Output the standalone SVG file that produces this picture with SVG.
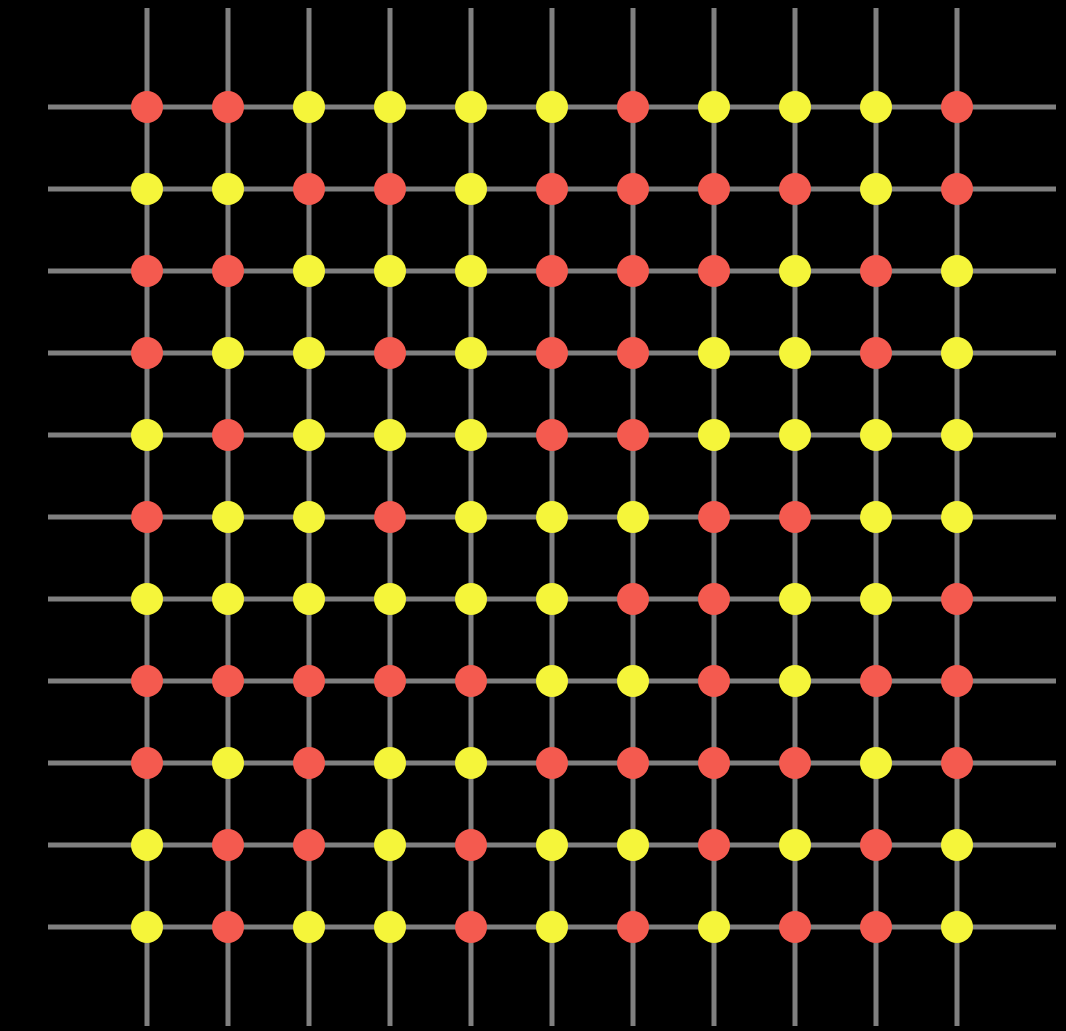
<svg xmlns="http://www.w3.org/2000/svg" width="1066" height="1031" viewBox="0 0 1066 1031">
<style>
.g{stroke:#808080;stroke-width:5;fill:none}
.r{fill:#F45A4F}
.y{fill:#F5F53A}
</style>
<rect width="1066" height="1031" fill="#000"/>
<g id="connectors" class="g">
<path d="M48 107H1056M48 189H1056M48 271H1056M48 353H1056M48 435H1056M48 517H1056M48 599H1056M48 681H1056M48 763H1056M48 845H1056M48 927H1056"/>
<path d="M147 8V1026M228 8V1026M309 8V1026M390 8V1026M471 8V1026M552 8V1026M633 8V1026M714 8V1026M795 8V1026M876 8V1026M957 8V1026"/>
</g>
<g id="nodes">
<g id="row1"><circle class="r" cx="147" cy="107" r="16"/><circle class="r" cx="228" cy="107" r="16"/><circle class="y" cx="309" cy="107" r="16"/><circle class="y" cx="390" cy="107" r="16"/><circle class="y" cx="471" cy="107" r="16"/><circle class="y" cx="552" cy="107" r="16"/><circle class="r" cx="633" cy="107" r="16"/><circle class="y" cx="714" cy="107" r="16"/><circle class="y" cx="795" cy="107" r="16"/><circle class="y" cx="876" cy="107" r="16"/><circle class="r" cx="957" cy="107" r="16"/></g>
<g id="row2"><circle class="y" cx="147" cy="189" r="16"/><circle class="y" cx="228" cy="189" r="16"/><circle class="r" cx="309" cy="189" r="16"/><circle class="r" cx="390" cy="189" r="16"/><circle class="y" cx="471" cy="189" r="16"/><circle class="r" cx="552" cy="189" r="16"/><circle class="r" cx="633" cy="189" r="16"/><circle class="r" cx="714" cy="189" r="16"/><circle class="r" cx="795" cy="189" r="16"/><circle class="y" cx="876" cy="189" r="16"/><circle class="r" cx="957" cy="189" r="16"/></g>
<g id="row3"><circle class="r" cx="147" cy="271" r="16"/><circle class="r" cx="228" cy="271" r="16"/><circle class="y" cx="309" cy="271" r="16"/><circle class="y" cx="390" cy="271" r="16"/><circle class="y" cx="471" cy="271" r="16"/><circle class="r" cx="552" cy="271" r="16"/><circle class="r" cx="633" cy="271" r="16"/><circle class="r" cx="714" cy="271" r="16"/><circle class="y" cx="795" cy="271" r="16"/><circle class="r" cx="876" cy="271" r="16"/><circle class="y" cx="957" cy="271" r="16"/></g>
<g id="row4"><circle class="r" cx="147" cy="353" r="16"/><circle class="y" cx="228" cy="353" r="16"/><circle class="y" cx="309" cy="353" r="16"/><circle class="r" cx="390" cy="353" r="16"/><circle class="y" cx="471" cy="353" r="16"/><circle class="r" cx="552" cy="353" r="16"/><circle class="r" cx="633" cy="353" r="16"/><circle class="y" cx="714" cy="353" r="16"/><circle class="y" cx="795" cy="353" r="16"/><circle class="r" cx="876" cy="353" r="16"/><circle class="y" cx="957" cy="353" r="16"/></g>
<g id="row5"><circle class="y" cx="147" cy="435" r="16"/><circle class="r" cx="228" cy="435" r="16"/><circle class="y" cx="309" cy="435" r="16"/><circle class="y" cx="390" cy="435" r="16"/><circle class="y" cx="471" cy="435" r="16"/><circle class="r" cx="552" cy="435" r="16"/><circle class="r" cx="633" cy="435" r="16"/><circle class="y" cx="714" cy="435" r="16"/><circle class="y" cx="795" cy="435" r="16"/><circle class="y" cx="876" cy="435" r="16"/><circle class="y" cx="957" cy="435" r="16"/></g>
<g id="row6"><circle class="r" cx="147" cy="517" r="16"/><circle class="y" cx="228" cy="517" r="16"/><circle class="y" cx="309" cy="517" r="16"/><circle class="r" cx="390" cy="517" r="16"/><circle class="y" cx="471" cy="517" r="16"/><circle class="y" cx="552" cy="517" r="16"/><circle class="y" cx="633" cy="517" r="16"/><circle class="r" cx="714" cy="517" r="16"/><circle class="r" cx="795" cy="517" r="16"/><circle class="y" cx="876" cy="517" r="16"/><circle class="y" cx="957" cy="517" r="16"/></g>
<g id="row7"><circle class="y" cx="147" cy="599" r="16"/><circle class="y" cx="228" cy="599" r="16"/><circle class="y" cx="309" cy="599" r="16"/><circle class="y" cx="390" cy="599" r="16"/><circle class="y" cx="471" cy="599" r="16"/><circle class="y" cx="552" cy="599" r="16"/><circle class="r" cx="633" cy="599" r="16"/><circle class="r" cx="714" cy="599" r="16"/><circle class="y" cx="795" cy="599" r="16"/><circle class="y" cx="876" cy="599" r="16"/><circle class="r" cx="957" cy="599" r="16"/></g>
<g id="row8"><circle class="r" cx="147" cy="681" r="16"/><circle class="r" cx="228" cy="681" r="16"/><circle class="r" cx="309" cy="681" r="16"/><circle class="r" cx="390" cy="681" r="16"/><circle class="r" cx="471" cy="681" r="16"/><circle class="y" cx="552" cy="681" r="16"/><circle class="y" cx="633" cy="681" r="16"/><circle class="r" cx="714" cy="681" r="16"/><circle class="y" cx="795" cy="681" r="16"/><circle class="r" cx="876" cy="681" r="16"/><circle class="r" cx="957" cy="681" r="16"/></g>
<g id="row9"><circle class="r" cx="147" cy="763" r="16"/><circle class="y" cx="228" cy="763" r="16"/><circle class="r" cx="309" cy="763" r="16"/><circle class="y" cx="390" cy="763" r="16"/><circle class="y" cx="471" cy="763" r="16"/><circle class="r" cx="552" cy="763" r="16"/><circle class="r" cx="633" cy="763" r="16"/><circle class="r" cx="714" cy="763" r="16"/><circle class="r" cx="795" cy="763" r="16"/><circle class="y" cx="876" cy="763" r="16"/><circle class="r" cx="957" cy="763" r="16"/></g>
<g id="row10"><circle class="y" cx="147" cy="845" r="16"/><circle class="r" cx="228" cy="845" r="16"/><circle class="r" cx="309" cy="845" r="16"/><circle class="y" cx="390" cy="845" r="16"/><circle class="r" cx="471" cy="845" r="16"/><circle class="y" cx="552" cy="845" r="16"/><circle class="y" cx="633" cy="845" r="16"/><circle class="r" cx="714" cy="845" r="16"/><circle class="y" cx="795" cy="845" r="16"/><circle class="r" cx="876" cy="845" r="16"/><circle class="y" cx="957" cy="845" r="16"/></g>
<g id="row11"><circle class="y" cx="147" cy="927" r="16"/><circle class="r" cx="228" cy="927" r="16"/><circle class="y" cx="309" cy="927" r="16"/><circle class="y" cx="390" cy="927" r="16"/><circle class="r" cx="471" cy="927" r="16"/><circle class="y" cx="552" cy="927" r="16"/><circle class="r" cx="633" cy="927" r="16"/><circle class="y" cx="714" cy="927" r="16"/><circle class="r" cx="795" cy="927" r="16"/><circle class="r" cx="876" cy="927" r="16"/><circle class="y" cx="957" cy="927" r="16"/></g>
</g>
</svg>
